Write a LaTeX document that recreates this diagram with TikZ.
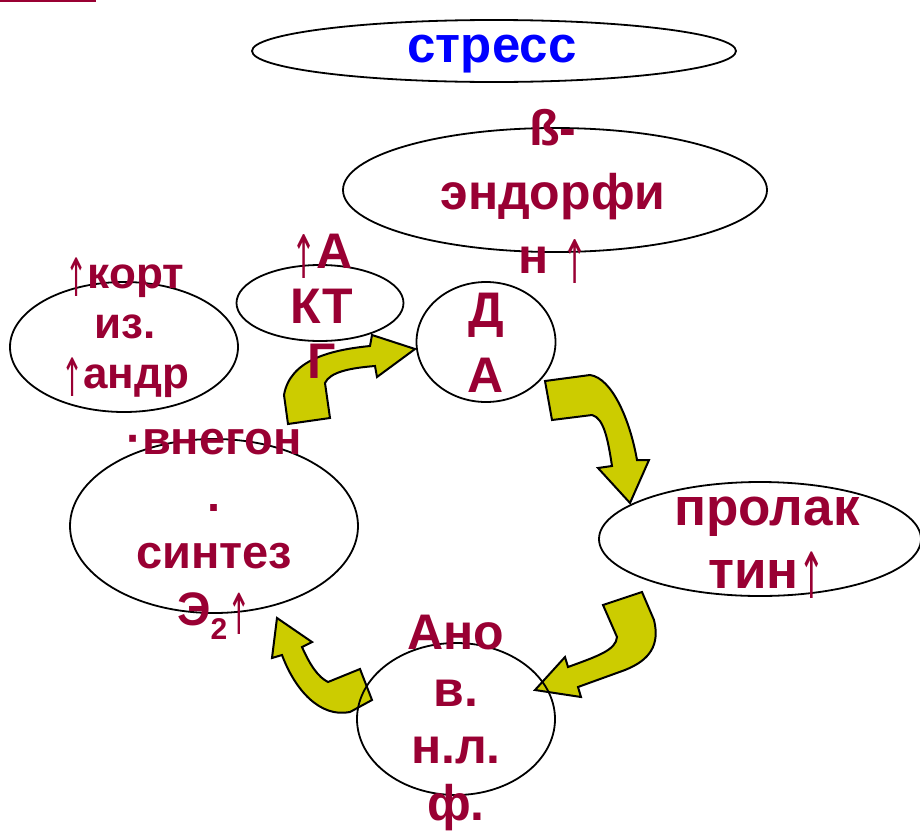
\documentclass[tikz,border=0pt]{standalone}
\usepackage{fontspec}
\setmainfont{Liberation Sans}
\newfontfamily\arrowfont{DejaVu Sans}
\newcommand{\uparr}{\raisebox{-0.2em}{\arrowfont\mdseries\scalebox{0.6}[1.2]{↑}}}
\usetikzlibrary{shapes.geometric}
\definecolor{wine}{RGB}{153,0,51}
\definecolor{olivey}{RGB}{204,204,0}
\begin{document}
\begin{tikzpicture}[x=1pt,y=-1pt,
  oval/.style={draw=black, line width=1.8pt, ellipse, inner sep=0pt},
  lbl/.style={text=wine, font=\bfseries\fontsize{50}{57}\selectfont, align=center, anchor=base, inner sep=0pt},
  blockarrow/.style={fill=olivey, draw=black, line width=2pt, line join=miter}]
\useasboundingbox (0,0) rectangle (920,830);
\draw[wine, line width=2pt] (0,1) -- (96,1);

% block arrows
\draw[blockarrow] (288,424) -- (284,395) .. controls (290,360) and (330,350) .. (370,346) -- (372,335) -- (415,349) -- (377,377) -- (375,366) .. controls (350,368) and (330,372) .. (325,383) -- (330,418) -- cycle;
\draw[blockarrow] (545,381) -- (590,375) .. controls (612,378) and (630,420) .. (637,460) -- (649,460) -- (630,503) -- (598,468) -- (612,466) .. controls (608,440) and (604,418) .. (592,415) -- (552,420) -- cycle;
\draw[blockarrow] (603,605) -- (642,592) -- (654,620) .. controls (660,645) and (650,660) .. (625,670) -- (578,687) -- (581,697) -- (535,690) -- (565,657) -- (568,667) .. controls (598,656) and (616,650) .. (617,637) -- cycle;
\draw[blockarrow] (277,618) -- (312,642) -- (302,647) .. controls (310,665) and (318,677) .. (328,682) -- (360,669) -- (372,700) -- (350,712) .. controls (320,718) and (295,690) .. (282,655) -- (272,658) -- cycle;

% ellipses
\node[oval, minimum width=484pt, minimum height=62pt] (stressE) at (494,51) {};
\node[oval, minimum width=424pt, minimum height=124pt] (endE) at (555,190) {};
\node[oval, minimum width=228pt, minimum height=130pt] (kortE) at (124,347) {};
\node[oval, minimum width=167pt, minimum height=76pt] (acthE) at (320,303) {};
\node[oval, minimum width=139pt, minimum height=120pt] (daE) at (486,342) {};
\node[oval, minimum width=322pt, minimum height=114pt] (prolE) at (760,539) {};
\node[oval, minimum width=288pt, minimum height=174pt] (sintE) at (214,526) {};
\node[oval, minimum width=198pt, minimum height=152pt] (anovE) at (456,719) {};

% texts (anchored at baseline of last line)
\node[lbl, text=blue, font=\bfseries\fontsize{51}{57}\selectfont] (stressT) at (492,62) {стресс};
\node[lbl, font=\bfseries\fontsize{50}{64}\selectfont] (endT) at (553,273) {ß-\\эндорфи\\н \uparr};
\node[lbl, font=\bfseries\fontsize{44}{50}\selectfont] (kortT) at (125,388) {\uparr корт\\из.\\\uparr андр};
\node[lbl, font=\bfseries\fontsize{50}{55}\selectfont] (acthT) at (322,378) {\uparr А\\КТ\\Г};
\node[lbl, font=\bfseries\fontsize{50}{65}\selectfont] (daT) at (486,392) {Д\\А};
\node[lbl, font=\bfseries\fontsize{53}{63}\selectfont] (prolT) at (767,588) {пролак\\тин\uparr};
\node[lbl] (anovT) at (456,820) {Ано\\в.\\н.л.\\ф.};
\node[lbl, font=\bfseries\fontsize{47}{57}\selectfont] (sintT) at (214,625) {·внегон\\.\\синтез\\Э\raisebox{-0.3em}{\fontsize{30}{30}\selectfont 2}\uparr};
\end{tikzpicture}
\end{document}
